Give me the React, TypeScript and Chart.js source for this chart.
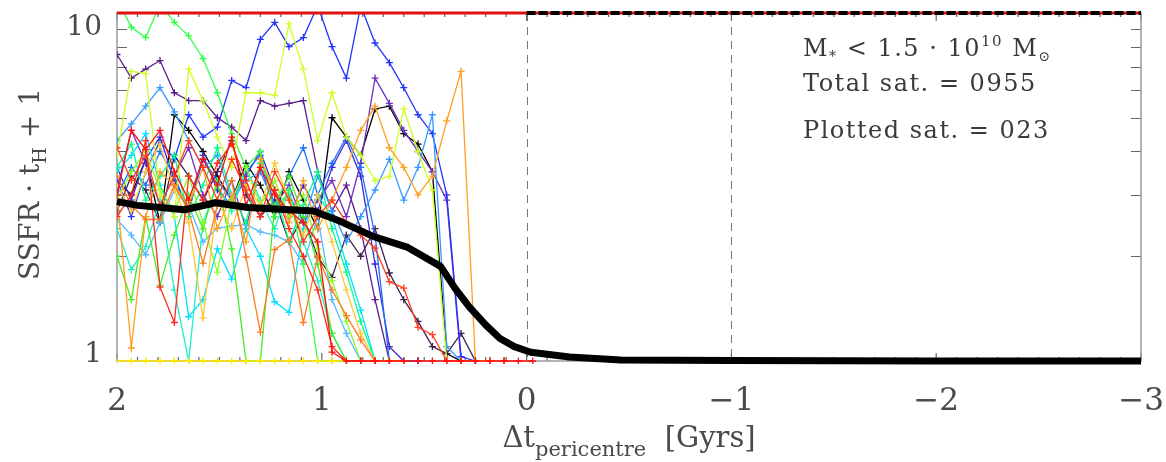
import React, { useEffect, useRef } from "react";
import { Chart, registerables } from "chart.js";

Chart.register(...registerables);

// Time grid (Gyr before pericentre) shared by the satellite tracks
const TIMES = [2.0, 1.93, 1.86, 1.79, 1.72, 1.65, 1.58, 1.51, 1.44, 1.37, 1.3, 1.23, 1.16, 1.09, 1.02, 0.95, 0.88, 0.81, 0.74, 0.67, 0.6, 0.53, 0.46, 0.39, 0.32, 0.25, 0.18, 0.11, 0.04, -0.03, -0.1, -0.17];

// Satellite tracks (SSFR * tH + 1)
const SAT_BLACK = [3.3, 3.0, 3.8, 2.5, 5.1, 4.6, 4.0, 3.4, 2.9, 3.7, 3.2, 2.6, 3.5, 2.9, 2.4, 5.0, 4.4, 3.9, 5.3, 5.4, 4.5, 4.2, 3.5, 1.05, 1.0, 1.0, 1.0];
const SAT_GREYPURPLE = [2.7, 3.4, 3.1, 2.5, 3.9, 3.4, 2.9, 3.5, 4.3, 3.0, 2.6, 2.9, 2.2, 2.6, 1.99, 1.74, 2.3, 2.0, 2.4, 1.79, 1.5, 1.3, 1.1, 1.05, 1.2, 1.0, 1.0, 1.0];
const SAT_DARKPURPLE = [7.6, 6.5, 6.9, 7.3, 5.9, 5.6, 5.6, 5.0, 4.7, 4.3, 5.6, 5.4, 5.5, 5.6, 3.5, 2.7, 3.2, 2.4, 1.5, 1.0, 1.0, 1.0];
const SAT_PURPLE = [3.1, 4.6, 3.7, 2.8, 3.4, 4.1, 3.0, 2.6, 3.3, 2.4, 3.6, 2.8, 3.2, 2.5, 2.9, 3.3, 2.6, 3.7, 6.5, 5.5, 4.6, 4.0, 3.5, 2.9, 1.0, 1.0, 1.0, 1.0];
const SAT_INDIGO = [3.6, 2.9, 3.8, 4.4, 3.3, 2.7, 3.9, 3.1, 2.8, 3.4, 4.0, 3.1, 2.6, 3.2, 2.7, 3.6, 4.3, 3.4, 1.9, 1.1, 1.0, 1.0];
const SAT_BLUE = [3.3, 2.6, 3.5, 4.3, 3.8, 5.1, 4.4, 4.7, 6.4, 6.1, 8.4, 9.4, 8.0, 8.5, 10.5, 8.0, 6.5, 10.5, 8.2, 7.2, 6.1, 5.1, 4.5, 3.0, 1.03, 1.0, 1.0];
const SAT_AZURE = [3.0, 3.6, 3.2, 4.0, 3.4, 2.7, 3.8, 3.3, 2.9, 3.5, 3.9, 2.8, 3.4, 4.1, 3.0, 3.7, 4.4, 3.6, 2.3, 1.0, 1.0, 1.0];
const SAT_LIGHTBLUE = [4.3, 4.8, 5.4, 6.1, 5.2, 4.3, 3.6, 3.9, 2.9, 3.3, 3.5, 2.8, 3.0, 2.5, 3.4, 2.7, 2.2, 2.6, 3.1, 3.8, 2.9, 3.6, 5.1, 1.1, 1.0, 1.0];
const SAT_SKY = [2.55, 2.3, 2.02, 2.5, 3.1, 2.8, 2.2, 2.41, 2.44, 2.47, 2.35, 2.3, 2.2, 1.9, 2.6, 1.5, 1.2, 1.0, 1.0, 1.0];
const SAT_CYAN = [3.5, 3.9, 4.5, 3.2, 2.6, 1.34, 1.5, 2.1, 1.72, 2.4, 2.0, 1.48, 1.38, 2.4, 3.0, 2.6, 1.9, 1.4, 1.0, 1.0, 1.0];
const SAT_TURQUOISE = [2.4, 1.83, 2.13, 2.9, 1.6, 1.0, 2.5, 3.2, 2.7, 3.6, 2.9, 2.4, 3.1, 2.2, 1.7, 1.2, 1.0, 1.0, 1.0];
const SAT_SPRING = [3.6, 4.2, 2.9, 3.4, 3.9, 2.6, 3.2, 4.1, 3.0, 2.5, 3.7, 3.1, 2.2, 2.8, 3.5, 2.4, 1.8, 1.3, 1.0, 1.0, 1.0];
const SAT_GREEN = [11.0, 9.1, 8.5, 10.6, 9.4, 8.6, 7.4, 5.9, 4.5, 3.6, 4.0, 2.6, 3.1, 1.9, 1.0, 1.0, 1.0];
const SAT_GREEN2 = [2.0, 1.5, 2.6, 1.65, 2.3, 3.0, 2.4, 3.3, 2.1, 1.0, 1.0, 2.8, 3.4, 2.6, 1.9, 1.2, 1.0, 1.0];
const SAT_LIME = [2.9, 3.5, 4.0, 3.1, 2.7, 3.4, 2.5, 1.8, 2.9, 3.6, 2.8, 3.3, 2.6, 3.0, 2.1, 1.7, 1.3, 1.0, 1.0, 1.0];
const SAT_YELLOWGREEN = [3.9, 6.8, 6.7, 3.0, 2.6, 6.9, 5.6, 4.4, 3.6, 5.9, 5.9, 5.8, 9.3, 6.9, 4.3, 5.9, 4.4, 3.9, 3.3, 3.4, 5.3, 4.0, 3.1, 1.0, 1.0, 1.0, 1.0];
const SAT_YELLOW = [1.0, 1.0, 1.0, 1.0, 1.0, 1.0, 1.0, 1.0, 1.0, 1.0, 1.0, 1.0, 1.0, 1.0, 1.0, 1.0, 1.0];
const SAT_GOLD = [3.2, 2.7, 3.5, 4.2, 3.1, 2.5, 1.33, 2.9, 2.4, 3.2, 2.8, 3.7, 2.9, 2.3, 3.0, 2.2, 1.6, 1.2, 1.0, 1.0, 1.0];
const SAT_ORANGE = [3.0, 1.09, 2.6, 3.5, 3.2, 2.8, 3.6, 2.4, 3.0, 2.2, 3.8, 3.1, 2.5, 3.3, 2.4, 2.9, 3.6, 4.6, 5.4, 4.1, 3.6, 3.0, 3.4, 4.9, 6.8, 1.0, 1.0, 1.0];
const SAT_DARKORANGE = [3.4, 2.8, 2.55, 2.55, 3.2, 2.7, 1.91, 2.8, 3.3, 1.99, 1.21, 2.09, 2.23, 1.29, 2.0, 1.6, 1.35, 1.15, 1.0, 1.0, 1.0];
const SAT_ORANGERED = [4.1, 3.3, 3.9, 2.8, 3.4, 4.3, 3.6, 2.9, 3.8, 3.1, 2.6, 3.5, 2.9, 2.2, 2.6, 2.9, 2.5, 2.3, 2.11, 1.69, 1.62, 1.25, 1.19, 1.0, 1.0, 1.0];
const SAT_RED = [2.6, 3.0, 4.3, 1.63, 1.29, 3.4, 2.9, 3.7, 4.2, 3.3, 2.6, 3.1, 2.4, 2.0, 1.6, 1.1, 1.0, 1.0, 1.0];
const SAT_RED2 = [3.0, 4.6, 4.05, 4.6, 3.5, 2.9, 3.8, 3.2, 4.4, 2.8, 3.6, 3.0, 2.7, 2.5, 2.2, 1.06, 1.0, 1.0, 1.0, 1.0, 1.0, 1.0, 1.0, 1.0, 1.0, 1.0, 1.0, 1.0, 1.0, 1.0];

const SATELLITES: [number[], string][] = [
  [SAT_RED2, "#ff1010"],
  [SAT_YELLOW, "#ffe600"],
  [SAT_RED, "#ff2a1a"],
  [SAT_ORANGERED, "#ff4020"],
  [SAT_DARKORANGE, "#ff7a20"],
  [SAT_ORANGE, "#ffa020"],
  [SAT_GOLD, "#ffc830"],
  [SAT_YELLOWGREEN, "#ccff22"],
  [SAT_LIME, "#88ff22"],
  [SAT_GREEN2, "#44ee22"],
  [SAT_GREEN, "#33ff44"],
  [SAT_SPRING, "#00ff88"],
  [SAT_TURQUOISE, "#20f0c8"],
  [SAT_CYAN, "#00e0ff"],
  [SAT_SKY, "#55bbff"],
  [SAT_LIGHTBLUE, "#3399ff"],
  [SAT_AZURE, "#1e6eff"],
  [SAT_BLUE, "#2233ff"],
  [SAT_INDIGO, "#3c2ad0"],
  [SAT_PURPLE, "#7030c0"],
  [SAT_DARKPURPLE, "#5a1e8c"],
  [SAT_GREYPURPLE, "#402050"],
  [SAT_BLACK, "#000000"],
];

// Median track
const MEDIAN_X = [2.0, 1.9, 1.67, 1.52, 1.36, 1.04, 0.91, 0.75, 0.58, 0.42, 0.35, 0.28, 0.2, 0.13, 0.06, -0.02, -0.21, -0.46, -1.0, -2.0, -3.0];
const MEDIAN_Y = [2.87, 2.8, 2.72, 2.85, 2.76, 2.7, 2.52, 2.28, 2.12, 1.87, 1.62, 1.43, 1.27, 1.16, 1.1, 1.06, 1.027, 1.007, 1.004, 1.0, 1.0];

// Upper-edge tracks (clipped at the top of the range)
const TOP_RED_X = [2, -3];
const TOP_BLACK_X = [0, -3];
const TOP_Y = [10, 10];

// Axes
const X_MIN = -3;
const X_MAX = 2;
const Y_MIN = 1;
const Y_MAX = 10;
const X_TICKS = [2, 1, 0, -1, -2, -3];
const X_TICK_LABELS = ["2", "1", "0", "\u22121", "\u22122", "\u22123"];
const Y_MINOR = [2, 3, 4, 5, 6, 7, 8, 9];
const V_LINES = [0, -1];

const FONT = "'DejaVu Serif', serif";
const TEXT = "#4a4a4a";

type Seg = { t: string; size: number; dy?: number };

function drawRich(ctx: CanvasRenderingContext2D, segs: Seg[], x: number, y: number, align: "left" | "center") {
  let total = 0;
  const widths = segs.map((s) => {
    ctx.font = `${s.size}px ${FONT}`;
    const w = ctx.measureText(s.t).width;
    total += w;
    return w;
  });
  let cx = align === "center" ? x - total / 2 : x;
  segs.forEach((s, i) => {
    ctx.font = `${s.size}px ${FONT}`;
    ctx.fillText(s.t, cx, y + (s.dy || 0));
    cx += widths[i];
  });
}

const decorPlugin = {
  id: "decor",
  beforeDatasetsDraw(chart: any) {
    const { ctx, chartArea: a, scales } = chart;
    const x = scales.x;
    const y = scales.y;
    ctx.save();
    ctx.strokeStyle = "#777";
    ctx.lineWidth = 1;
    ctx.setLineDash([8, 6]);
    for (const v of V_LINES) {
      const px = Math.round(x.getPixelForValue(v)) + 0.5;
      ctx.beginPath();
      ctx.moveTo(px, a.top);
      ctx.lineTo(px, a.bottom);
      ctx.stroke();
    }
    ctx.setLineDash([]);
    ctx.strokeStyle = "#666";
    ctx.lineWidth = 1.2;
    for (let i = X_MIN * 10; i <= X_MAX * 10; i++) {
      const px = x.getPixelForValue(i / 10);
      const len = i % 10 === 0 ? 8 : 4;
      ctx.beginPath();
      ctx.moveTo(px, a.bottom);
      ctx.lineTo(px, a.bottom - len);
      ctx.moveTo(px, a.top);
      ctx.lineTo(px, a.top + len);
      ctx.stroke();
    }
    for (const v of Y_MINOR) {
      const py = Math.round(y.getPixelForValue(v)) + 0.5;
      ctx.beginPath();
      ctx.moveTo(a.left, py);
      ctx.lineTo(a.left + 10, py);
      ctx.moveTo(a.right, py);
      ctx.lineTo(a.right - 10, py);
      ctx.stroke();
    }
    ctx.strokeStyle = "#9a9a9a";
    ctx.lineWidth = 1.5;
    ctx.strokeRect(a.left, a.top, a.right - a.left, a.bottom - a.top);
    ctx.restore();
  },
  afterDraw(chart: any) {
    const { ctx, chartArea: a, scales } = chart;
    const x = scales.x;
    const y = scales.y;
    ctx.save();
    ctx.fillStyle = TEXT;
    ctx.textBaseline = "alphabetic";
    ctx.textAlign = "center";
    ctx.font = `31px ${FONT}`;
    X_TICKS.forEach((v, i) => {
      ctx.fillText(X_TICK_LABELS[i], x.getPixelForValue(v), 410);
    });
    ctx.textAlign = "right";
    ctx.font = `28px ${FONT}`;
    ctx.fillText(String(Y_MAX), a.left - 15, y.getPixelForValue(Y_MAX) + 22);
    ctx.fillText(String(Y_MIN), a.left - 15, y.getPixelForValue(Y_MIN) + 1);
    ctx.textAlign = "left";
    drawRich(
      ctx,
      [
        { t: "\u0394t", size: 29 },
        { t: "pericentre", size: 21, dy: 9 },
        { t: "  [Gyrs]", size: 29 },
      ],
      (a.left + a.right) / 2,
      447,
      "center"
    );
    ctx.save();
    ctx.translate(39, 184);
    ctx.rotate(-Math.PI / 2);
    drawRich(
      ctx,
      [
        { t: "SSFR \u00b7 t", size: 28 },
        { t: "H", size: 19, dy: 7 },
        { t: " + 1", size: 28 },
      ],
      0,
      0,
      "center"
    );
    ctx.restore();
    ctx.fillStyle = "#3a3a3a";
    (ctx as any).letterSpacing = "1.5px";
    drawRich(
      ctx,
      [
        { t: "M", size: 24 },
        { t: "*", size: 14, dy: 5 },
        { t: " < 1.5 \u00b7 10", size: 24 },
        { t: "10", size: 15, dy: -10 },
        { t: " M", size: 24 },
        { t: "\u2299", size: 14, dy: 5 },
      ],
      803,
      56,
      "left"
    );
    drawRich(ctx, [{ t: "Total sat. = 0955", size: 24 }], 803, 91, "left");
    drawRich(ctx, [{ t: "Plotted sat. = 023", size: 24 }], 803, 138, "left");
    (ctx as any).letterSpacing = "0px";
    ctx.restore();
  },
};

export default function App() {
  const ref = useRef<HTMLCanvasElement>(null);
  useEffect(() => {
    document.body.style.margin = "0";
    const canvas = ref.current;
    if (!canvas) return;
    const toPts = (xs: number[], ys: number[]) => ys.map((v, i) => ({ x: xs[i], y: v }));

    const satSets = SATELLITES.map(([vals, color], i) => ({
      label: "sat" + i,
      data: toPts(TIMES, vals),
      borderColor: color,
      backgroundColor: color,
      borderWidth: 1.3,
      pointStyle: "cross" as const,
      pointRadius: 3.5,
      pointBorderWidth: 1.3,
      pointBorderColor: color,
      tension: 0,
      order: 3 + i,
      clip: { left: 0, top: 0, right: 0, bottom: 3 },
    }));

    const chart = new Chart(canvas, {
      type: "line",
      data: {
        datasets: [
          {
            label: "median",
            data: toPts(MEDIAN_X, MEDIAN_Y),
            borderColor: "#000",
            borderWidth: 7,
            borderJoinStyle: "round",
            pointRadius: 0,
            tension: 0,
            order: 0,
            clip: 5,
          } as any,
          {
            label: "topBlack",
            data: toPts(TOP_BLACK_X, TOP_Y),
            borderColor: "#000",
            borderWidth: 4,
            borderDash: [9, 3],
            pointRadius: 0,
            order: 1,
            clip: 3,
          },
          {
            label: "topRed",
            data: toPts(TOP_RED_X, TOP_Y),
            borderColor: "#e01010",
            borderWidth: 3,
            pointRadius: 0,
            order: 2,
            clip: 3,
          },
          ...satSets,
        ],
      },
      options: {
        responsive: false,
        devicePixelRatio: 1,
        animation: false,
        events: [],
        layout: { padding: { left: 117, right: 25, top: 13, bottom: 101 } },
        plugins: { legend: { display: false }, tooltip: { enabled: false } },
        scales: {
          x: { type: "linear", min: X_MIN, max: X_MAX, reverse: true, display: false },
          y: { type: "logarithmic", min: Y_MIN, max: Y_MAX, display: false },
        },
      },
      plugins: [decorPlugin],
    });
    return () => chart.destroy();
  }, []);
  return (
    <div style={{ width: 1166, height: 462 }}>
      <canvas ref={ref} width={1166} height={462} style={{ display: "block" }} />
    </div>
  );
}
